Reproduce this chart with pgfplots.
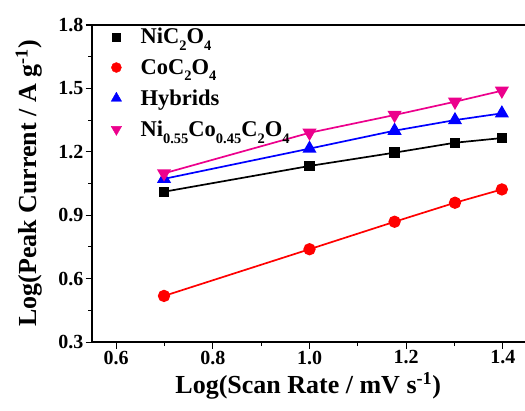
\documentclass[border=0pt]{standalone}
\usepackage{fontspec}
\setmainfont{Liberation Serif}
\usepackage{pgfplots}
\pgfplotsset{compat=1.18}
\newcommand\sub[1]{\raisebox{-0.3em}{\fontsize{14.5}{15}\selectfont #1}}
\begin{document}
\begin{tikzpicture}
\begin{axis}[
  scale only axis,
  width=435pt, height=317pt,
  xmin=0.55, xmax=1.45, ymin=0.3, ymax=1.8,
  xtick={0.6,0.8,1.0,1.2,1.4},
  ytick={0.3,0.6,0.9,1.2,1.5,1.8},
  minor x tick num=1, minor y tick num=1,
  xtick pos=left, ytick pos=left,
  tick align=outside,
  major tick length=6.5pt, minor tick length=4pt,
  axis line style={line width=1.2pt},
  every tick/.style={line width=1pt, black},
  xticklabel style={/pgf/number format/.cd, fixed, fixed zerofill, precision=1},
  yticklabel style={/pgf/number format/.cd, fixed, fixed zerofill, precision=1},
  /pgf/number format/assume math mode=true,
  ticklabel style={font=\fontsize{20}{22}\selectfont\bfseries, inner sep=2pt},
  xlabel={\fontsize{26}{28}\selectfont\bfseries Log(Scan Rate / mV s\textsuperscript{-1})},
  ylabel={\fontsize{26}{28}\selectfont\bfseries Log(Peak Current / A g\textsuperscript{-1})},
  xlabel style={at={(axis description cs:0.497,-0.161)}, anchor=base},
  ylabel style={at={(axis description cs:-0.106,0.5)}, anchor=south, rotate=0},
  legend style={draw=none, fill=none, at={(rel axis cs:0,1)}, anchor=north west,
    xshift=19pt, yshift=-1pt, inner sep=0pt,
    font=\fontsize{22.5}{24}\selectfont\bfseries, row sep=10pt, cells={anchor=west},
    /tikz/every odd column/.style={column sep=17pt}},
  legend cell align=left,
]
\coordinate (ll) at (rel axis cs:0,0);
\coordinate (ur) at (rel axis cs:1,1);
\addplot[black, line width=1.7pt, mark=square*, mark size=4.3pt, forget plot] coordinates {
(0.699,1.011)(1.0,1.133)(1.176,1.196)(1.301,1.243)(1.398,1.265)};
\addplot[red, line width=1.7pt, mark=*, mark size=5.3pt, forget plot] coordinates {
(0.699,0.518)(1.0,0.739)(1.176,0.869)(1.301,0.959)(1.398,1.022)};
\addplot[blue, line width=1.7pt, mark=triangle*, mark size=6.5pt, forget plot] coordinates {
(0.699,1.072)(1.0,1.215)(1.176,1.300)(1.301,1.350)(1.398,1.382)};
\addplot[magenta, line width=1.7pt, mark=triangle*, mark options={rotate=180}, mark size=6.5pt, forget plot] coordinates {
(0.699,1.098)(1.0,1.290)(1.176,1.374)(1.301,1.437)(1.398,1.489)};
\addlegendimage{only marks, black, mark=square*, mark size=4pt}
\addlegendentry{NiC\sub{2}O\sub{4}}
\addlegendimage{only marks, red, mark=*, mark size=5pt}
\addlegendentry{CoC\sub{2}O\sub{4}}
\addlegendimage{only marks, blue, mark=triangle*, mark size=6pt}
\addlegendentry{Hybrids}
\addlegendimage{only marks, magenta, mark=triangle*, mark options={rotate=180}, mark size=6pt}
\addlegendentry{Ni\sub{0.55}Co\sub{0.45}C\sub{2}O\sub{4}}
\end{axis}
\pgfresetboundingbox
\path ([xshift=-92pt,yshift=-68pt]ll) rectangle ([xshift=-2pt,yshift=25pt]ur);
\end{tikzpicture}
\end{document}
